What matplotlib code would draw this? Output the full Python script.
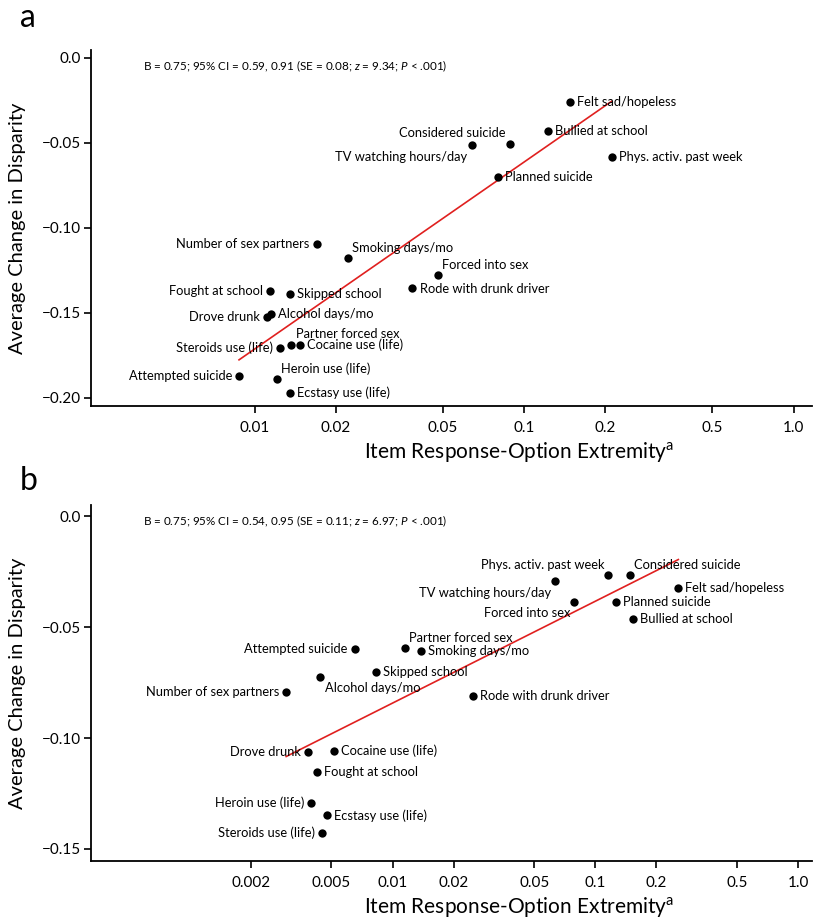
import numpy as np
import matplotlib
matplotlib.use('Agg')
import matplotlib.pyplot as plt
from matplotlib.ticker import FixedLocator, FixedFormatter, NullLocator

plt.rcParams['font.family'] = ['Lato', 'DejaVu Sans']
plt.rcParams['mathtext.fontset'] = 'custom'
plt.rcParams['mathtext.rm'] = 'Lato'
plt.rcParams['mathtext.it'] = 'Lato:italic'

# ---- panel a data ----
items_a = ['Felt sad/hopeless', 'Bullied at school', 'Considered suicide', 'TV watching hours/day',
           'Phys. activ. past week', 'Planned suicide', 'Number of sex partners', 'Smoking days/mo',
           'Forced into sex', 'Rode with drunk driver', 'Fought at school', 'Skipped school',
           'Drove drunk', 'Alcohol days/mo', 'Steroids use (life)', 'Partner forced sex',
           'Cocaine use (life)', 'Attempted suicide', 'Heroin use (life)', 'Ecstasy use (life)']
x_a = [0.148, 0.123, 0.0886, 0.064, 0.211, 0.0799, 0.0170, 0.0222, 0.048, 0.0384,
       0.01143, 0.01356, 0.01111, 0.01146, 0.01241, 0.01363, 0.01468, 0.00875, 0.01213, 0.01348]
y_a = [-0.026, -0.0428, -0.0506, -0.051, -0.0584, -0.0698, -0.1094, -0.1178, -0.1275, -0.1355,
       -0.1369, -0.1388, -0.1522, -0.1506, -0.1704, -0.1686, -0.1688, -0.1869, -0.1886, -0.1969]
fit_a = (0.110, 0.0488)   # slope, intercept on log10(x)
stats_a = 'B = 0.75; 95% CI = 0.59, 0.91 (SE = 0.08; $\\it{z}$ = 9.34; $\\it{P}$ < .001)'

# ---- panel b data ----
items_b = ['Attempted suicide', 'Partner forced sex', 'Smoking days/mo', 'Skipped school',
           'Alcohol days/mo', 'Number of sex partners', 'TV watching hours/day', 'Phys. activ. past week',
           'Considered suicide', 'Felt sad/hopeless', 'Forced into sex', 'Planned suicide',
           'Bullied at school', 'Rode with drunk driver', 'Drove drunk', 'Cocaine use (life)',
           'Fought at school', 'Heroin use (life)', 'Ecstasy use (life)', 'Steroids use (life)']
x_b = [0.0065, 0.0115, 0.01374, 0.00825, 0.00438, 0.00299, 0.0631, 0.115, 0.148, 0.2566,
       0.0781, 0.1259, 0.1527, 0.0249, 0.00384, 0.00514, 0.00424, 0.00398, 0.00473, 0.00447]
y_b = [-0.0599, -0.0596, -0.0608, -0.0704, -0.0727, -0.0794, -0.0293, -0.0266, -0.0266, -0.0323,
       -0.0387, -0.0386, -0.0465, -0.0811, -0.1063, -0.1059, -0.1152, -0.1293, -0.1348, -0.1428]
fit_b = (0.0459, 0.00753)
stats_b = 'B = 0.75; 95% CI = 0.54, 0.95 (SE = 0.11; $\\it{z}$ = 6.97; $\\it{P}$ < .001)'

xticks_a = [0.01, 0.02, 0.05, 0.1, 0.2, 0.5, 1.0]
xlabels_a = ['0.01', '0.02', '0.05', '0.1', '0.2', '0.5', '1.0']
xticks_b = [0.002, 0.005, 0.01, 0.02, 0.05, 0.1, 0.2, 0.5, 1.0]
xlabels_b = ['0.002', '0.005', '0.01', '0.02', '0.05', '0.1', '0.2', '0.5', '1.0']
yticks_a = [0.0, -0.05, -0.10, -0.15, -0.20]
yticks_b = [0.0, -0.05, -0.10, -0.15]

# label placement (pixel offsets from the dot)
offs_a = {'Felt sad/hopeless': (7, 0), 'Bullied at school': (7, 0), 'Considered suicide': (-4, 11),
          'TV watching hours/day': (-5, -12), 'Phys. activ. past week': (7, 0), 'Planned suicide': (7, 0),
          'Number of sex partners': (-7, 0), 'Smoking days/mo': (4, 10), 'Forced into sex': (4, 10),
          'Rode with drunk driver': (8, -1), 'Fought at school': (-7, 0), 'Skipped school': (7, 0),
          'Drove drunk': (-7, 0), 'Alcohol days/mo': (7, 0), 'Steroids use (life)': (-7, 0),
          'Partner forced sex': (5, 11), 'Cocaine use (life)': (7, 0), 'Attempted suicide': (-7, 0),
          'Heroin use (life)': (4, 10), 'Ecstasy use (life)': (7, 0)}
offs_b = {'Attempted suicide': (-7, 0), 'Partner forced sex': (4, 10), 'Smoking days/mo': (7, 0),
          'Skipped school': (7, 0), 'Alcohol days/mo': (5, -11), 'Number of sex partners': (-7, 0),
          'TV watching hours/day': (-4, -12), 'Phys. activ. past week': (-3, 10),
          'Considered suicide': (4, 10), 'Felt sad/hopeless': (7, 0), 'Forced into sex': (-3, -11),
          'Planned suicide': (7, 0), 'Bullied at school': (7, 0), 'Rode with drunk driver': (7, 0),
          'Drove drunk': (-7, 0), 'Cocaine use (life)': (7, 0), 'Fought at school': (7, 0),
          'Heroin use (life)': (-7, 0), 'Ecstasy use (life)': (7, 0), 'Steroids use (life)': (-7, 0)}


def ylab(v):
    return '0.0' if v == 0 else '\u2212%.2f' % abs(v)


def panel(ax, items, xs, ys, fit, stats, offs, xticks, xlabels, yticks, xlim, ylim):
    xs = np.array(xs)
    ys = np.array(ys)
    ax.set_xscale('log')
    ax.scatter(xs, ys, s=36, color='black', zorder=3, linewidths=0)
    lx = np.array([xs.min(), xs.max()])
    ax.plot(lx, fit[0] * np.log10(lx) + fit[1], color='#e0201f', lw=1.2, zorder=2)
    for name, x, y in zip(items, xs, ys):
        dx, dy = offs[name]
        ax.annotate(name, (x, y), xytext=(dx, dy), textcoords='offset pixels',
                    ha='left' if dx > 0 else 'right', va='center', fontsize=9.3, zorder=4)
    ax.text(0.072, 0.954, stats, transform=ax.transAxes, fontsize=8.4, va='center', ha='left')
    ax.set_xlim(xlim)
    ax.set_ylim(ylim)
    ax.xaxis.set_major_locator(FixedLocator(xticks))
    ax.xaxis.set_major_formatter(FixedFormatter(xlabels))
    ax.xaxis.set_minor_locator(NullLocator())
    ax.yaxis.set_major_locator(FixedLocator(yticks))
    ax.yaxis.set_major_formatter(FixedFormatter([ylab(v) for v in yticks]))
    for s in ['top', 'right']:
        ax.spines[s].set_visible(False)
    for s in ['left', 'bottom']:
        ax.spines[s].set_linewidth(1.3)
    ax.tick_params(direction='out', length=5, width=1.2, labelsize=11)
    ax.tick_params(axis='x', pad=6)
    ax.tick_params(axis='y', pad=2)
    ax.set_xlabel('Item Response-Option Extremity$^{\\mathrm{a}}$', fontsize=15)
    ax.xaxis.set_label_coords(0.594, -0.095)
    ax.set_ylabel('Average Change in Disparity', fontsize=14.5)
    ax.yaxis.set_label_coords(-0.09, 0.5)


fig = plt.figure(figsize=(8.14, 9.22), dpi=100)
ax1 = fig.add_axes([0.1118, 0.5597, 0.8857, 0.3861])
ax2 = fig.add_axes([0.1118, 0.0662, 0.8857, 0.3861])

panel(ax1, items_a, x_a, y_a, fit_a, stats_a, offs_a, xticks_a, xlabels_a, yticks_a,
      (0.00247, 1.17), (-0.2047, 0.0047))
panel(ax2, items_b, x_b, y_b, fit_b, stats_b, offs_b, xticks_b, xlabels_b, yticks_b,
      (0.000326, 1.17), (-0.1554, 0.005))

fig.text(0.024, 0.971, 'a', fontsize=23, va='baseline')
fig.text(0.024, 0.469, 'b', fontsize=23, va='baseline')

fig.savefig('out.png', dpi=100)
